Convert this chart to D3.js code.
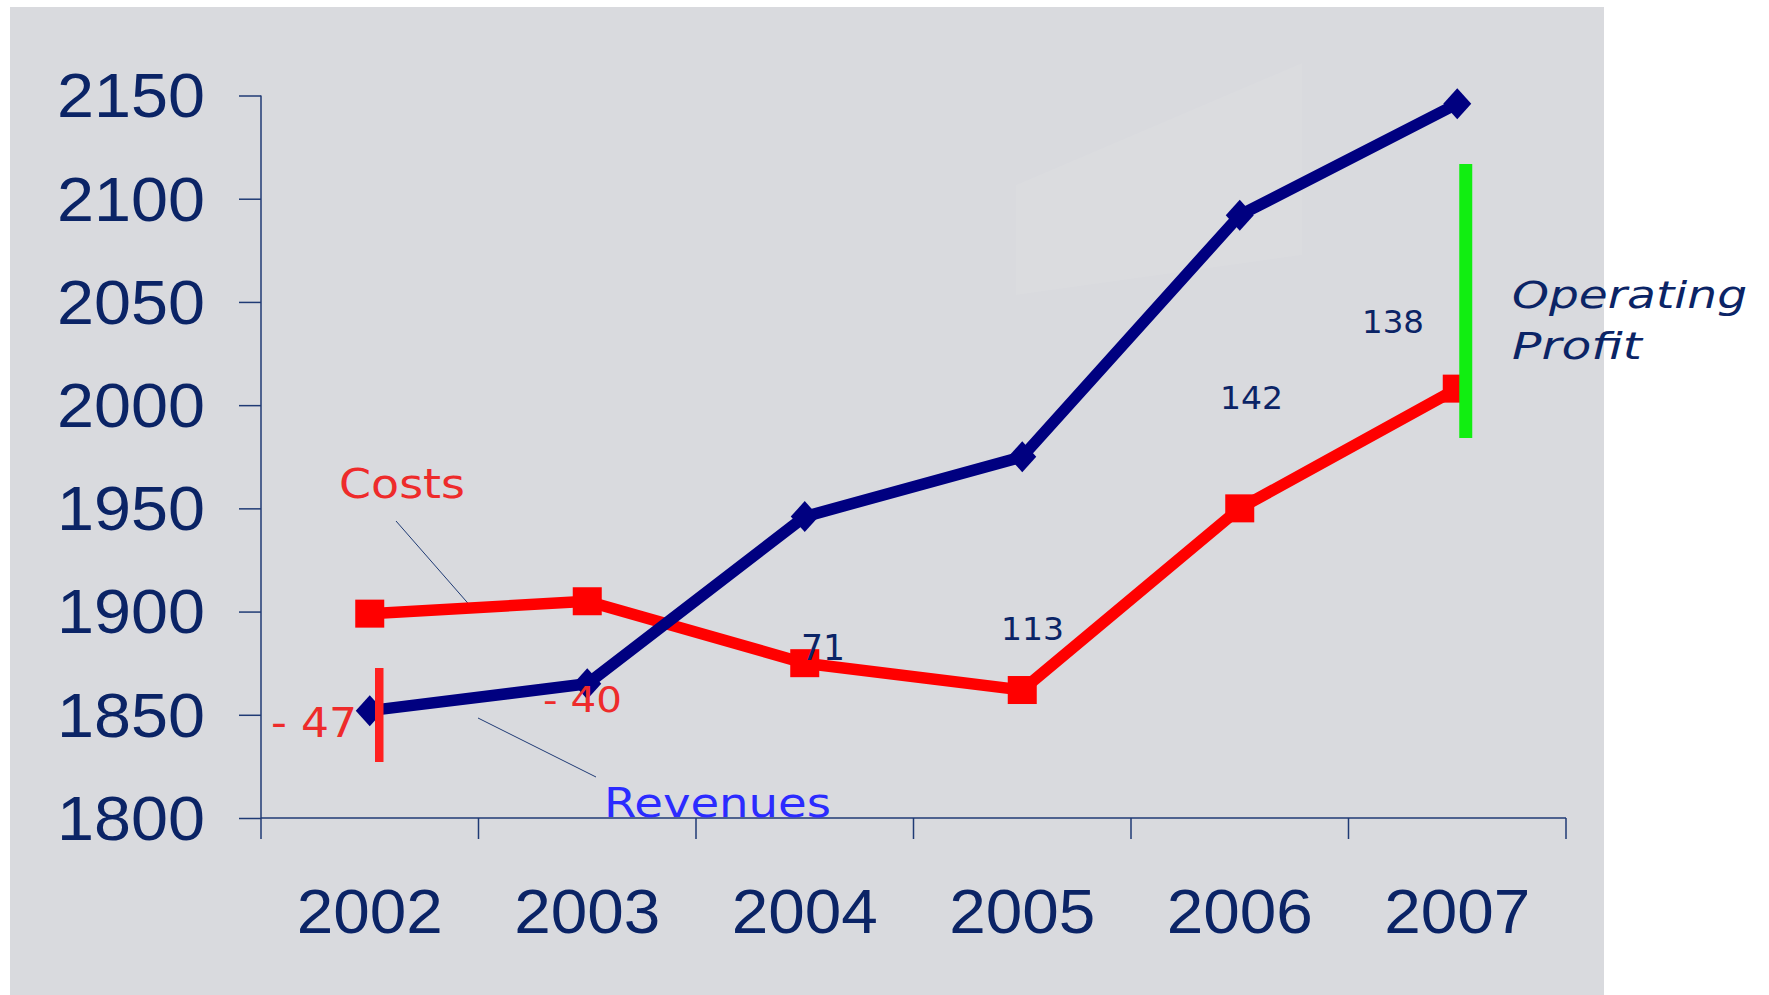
<!DOCTYPE html>
<html>
<head>
<meta charset="utf-8">
<script src="https://cdn.jsdelivr.net/npm/d3@7"></script>
<style>
  html, body { margin: 0; padding: 0; background: #ffffff; }
  svg { display: block; }
</style>
</head>
<body>
<svg id="chart" width="1769" height="995"></svg>
<script>
// ---- data ----
const years = ["2002", "2003", "2004", "2005", "2006", "2007"];
const revenues = [1852, 1865, 1946, 1975, 2092, 2146];
const costs = [1899, 1905, 1875, 1862, 1950, 2008];
const yTicks = [1800, 1850, 1900, 1950, 2000, 2050, 2100, 2150];

// ---- layout ----
const svg = d3.select("#chart");
const navy = "#000080";
const textNavy = "#0B2466";
const axisColor = "#1F3A74";
const red = "#FF0000";
const labelRed = "#EE2B2B";
const green = "#11EE11";

svg.append("rect").attr("x", 10).attr("y", 7).attr("width", 1594).attr("height", 988).attr("fill", "#D9DADE");
// faint light panel (artefact in reference)
svg.append("polygon").attr("points", "1016,185 1302,63 1302,255 1016,295").attr("fill", "#ffffff").attr("opacity", 0.06);

const x = d3.scaleBand().domain(years).range([261, 1566]).paddingInner(0).paddingOuter(0);
const y = d3.scaleLinear().domain([1800, 2150]).range([818, 95.5]);
const cx = d => x(d) + x.bandwidth() / 2;

// axes
const yAxis = svg.append("g").attr("transform", "translate(261,0)")
  .call(d3.axisLeft(y).tickValues(yTicks).tickSize(22).tickPadding(34).tickFormat(d3.format("d")));
const xAxis = svg.append("g").attr("transform", "translate(0,818)")
  .call(d3.axisBottom(x).tickSize(0).tickPadding(0).tickFormat(""));
// band boundary ticks
const bounds = years.map(d => x(d)).concat([x(years[years.length - 1]) + x.bandwidth()]);
xAxis.selectAll(".bt").data(bounds).enter().append("line")
  .attr("x1", d => d).attr("x2", d => d).attr("y1", 0).attr("y2", 21)
  .attr("stroke", axisColor).attr("stroke-width", 1.5);

[yAxis, xAxis].forEach(g => {
  g.select(".domain").attr("stroke", axisColor).attr("stroke-width", 1.5);
  g.selectAll(".tick line").attr("stroke", axisColor).attr("stroke-width", 1.5);
});
yAxis.select(".domain").attr("d", "M0,95.5V818");
xAxis.select(".domain").attr("d", "M261,0H1566");
yAxis.selectAll(".tick text")
  .attr("font-family", "'Liberation Sans', Arial, sans-serif").attr("font-size", 63)
  .attr("textLength", 148).attr("lengthAdjust", "spacingAndGlyphs")
  .attr("fill", textNavy).attr("dy", "0.34em").attr("x", -56);

// x labels
svg.append("g").selectAll("text").data(years).enter().append("text")
  .attr("x", d => cx(d) - 73).attr("y", 933)
  .attr("textLength", 146).attr("lengthAdjust", "spacingAndGlyphs")
  .attr("font-family", "'Liberation Sans', Arial, sans-serif").attr("font-size", 63)
  .attr("fill", textNavy).text(d => d);

// leader lines
svg.append("line").attr("x1", 396).attr("y1", 521).attr("x2", 473).attr("y2", 609)
  .attr("stroke", "#1F3A74").attr("stroke-width", 1);
svg.append("line").attr("x1", 478).attr("y1", 718).attr("x2", 596).attr("y2", 777)
  .attr("stroke", "#1F3A74").attr("stroke-width", 1);

// lines
const line = d3.line().x((d, i) => cx(years[i])).y(d => y(d));
svg.append("path").datum(costs).attr("d", line).attr("fill", "none")
  .attr("stroke", red).attr("stroke-width", 11.5).attr("stroke-linejoin", "round");
svg.append("path").datum(revenues).attr("d", line).attr("fill", "none")
  .attr("stroke", navy).attr("stroke-width", 11.5).attr("stroke-linejoin", "round");

// markers
svg.append("g").selectAll("rect").data(costs).enter().append("rect")
  .attr("x", (d, i) => cx(years[i]) - 14.5).attr("y", d => y(d) - 14)
  .attr("width", 29).attr("height", 28).attr("fill", red);
svg.append("g").selectAll("path").data(revenues).enter().append("path")
  .attr("d", "M0,-15.5L14,0L0,15.5L-14,0Z")
  .attr("transform", (d, i) => `translate(${cx(years[i])},${y(d)})`)
  .attr("fill", navy);

// profit bars (2002 loss, 2007 profit)
svg.append("line").attr("x1", cx(years[0]) + 9.5).attr("x2", cx(years[0]) + 9.5)
  .attr("y1", 668).attr("y2", 762).attr("stroke", "#FF2020").attr("stroke-width", 8.5);
svg.append("line").attr("x1", cx(years[5]) + 8.5).attr("x2", cx(years[5]) + 8.5)
  .attr("y1", 164).attr("y2", 438).attr("stroke", green).attr("stroke-width", 13);

// profit labels (value = revenues - costs)
const profit = revenues.map((r, i) => r - costs[i]);
const profitLayout = [
  { x: 271, y: 737, size: 41, len: 86 },
  { x: 543, y: 712, size: 35, len: 79 },
  { x: 801, y: 660, size: 36, len: 44 },
  { x: 1001, y: 640, size: 32, len: 63 },
  { x: 1220, y: 409, size: 32, len: 63 },
  { x: 1362, y: 333, size: 32, len: 62 }
];
svg.append("g").selectAll("text").data(profit).enter().append("text")
  .attr("x", (d, i) => profitLayout[i].x).attr("y", (d, i) => profitLayout[i].y)
  .attr("font-family", "'DejaVu Sans', Verdana, sans-serif")
  .attr("font-size", (d, i) => profitLayout[i].size)
  .attr("textLength", (d, i) => profitLayout[i].len).attr("lengthAdjust", "spacingAndGlyphs")
  .attr("fill", d => d < 0 ? labelRed : textNavy)
  .text(d => d < 0 ? "- " + Math.abs(d) : String(d));

// series labels
function label(t, xx, yy, size, len, color, italic) {
  svg.append("text").attr("x", xx).attr("y", yy)
    .attr("font-family", "'DejaVu Sans', Verdana, sans-serif").attr("font-size", size)
    .attr("font-style", italic ? "italic" : "normal")
    .attr("textLength", len).attr("lengthAdjust", "spacingAndGlyphs")
    .attr("fill", color).text(t);
}
label("Costs", 339, 498, 41, 126, labelRed, false);
label("Revenues", 604, 817, 40, 227, "#2B2BFF", false);
label("Operating", 1512, 308, 38, 235, textNavy, true);
label("Profit", 1512, 359, 38, 130, textNavy, true);
</script>
</body>
</html>
